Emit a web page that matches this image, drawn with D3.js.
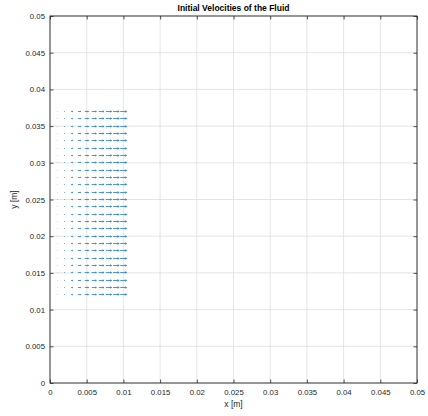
<!DOCTYPE html>
<html>
<head>
<meta charset="utf-8">
<script src="https://cdn.jsdelivr.net/npm/d3@7"></script>
<style>
  html, body { margin: 0; padding: 0; background: #fff; }
  svg { display: block; font-family: "Liberation Sans", Arial, sans-serif; }
</style>
</head>
<body>
<svg id="chart" width="428" height="416"></svg>
<script>
// Grid of sample points (m)
const xPositions = [0.001, 0.002, 0.003, 0.004, 0.005, 0.006, 0.007, 0.008, 0.009, 0.010];
const yPositions = [0.012, 0.013, 0.014, 0.015, 0.016, 0.017, 0.018, 0.019, 0.020, 0.021,
                    0.022, 0.023, 0.024, 0.025, 0.026, 0.027, 0.028, 0.029, 0.030, 0.031,
                    0.032, 0.033, 0.034, 0.035, 0.036, 0.037];
// Horizontal velocity at each x column (same for every row), vertical component zero
const uValues = [0.05, 0.12, 0.30, 0.45, 0.60, 0.72, 0.82, 0.90, 0.96, 1.00];
const vValues = [0, 0, 0, 0, 0, 0, 0, 0, 0, 0];

const xTicks = [0, 0.005, 0.01, 0.015, 0.02, 0.025, 0.03, 0.035, 0.04, 0.045, 0.05];
const yTicks = [0, 0.005, 0.01, 0.015, 0.02, 0.025, 0.03, 0.035, 0.04, 0.045, 0.05];

const titleText = "Initial Velocities of the Fluid";
const xLabel = "x [m]";
const yLabel = "y [m]";

const margin = { left: 50, top: 16, right: 11, bottom: 33 };
const W = 428, H = 416;
const iw = W - margin.left - margin.right;
const ih = H - margin.top - margin.bottom;

const svg = d3.select("#chart");
const g = svg.append("g").attr("transform", `translate(${margin.left},${margin.top})`);

const x = d3.scaleLinear().domain([0, 0.05]).range([0, iw]);
const y = d3.scaleLinear().domain([0, 0.05]).range([ih, 0]);

const fmt = d => d === 0 ? "0" : String(+d.toFixed(4));
const axisColor = "#262626";
const tickLen = 3.5;

// Grid lines
g.append("g").selectAll("line.gx").data(xTicks).join("line")
  .attr("x1", d => x(d)).attr("x2", d => x(d)).attr("y1", 0).attr("y2", ih)
  .attr("stroke", "#dedede").attr("stroke-width", 0.8);
g.append("g").selectAll("line.gy").data(yTicks).join("line")
  .attr("y1", d => y(d)).attr("y2", d => y(d)).attr("x1", 0).attr("x2", iw)
  .attr("stroke", "#dedede").attr("stroke-width", 0.8);

// Axes with inward ticks
const styleAxis = sel => {
  sel.select(".domain").remove();
  sel.selectAll(".tick line").attr("stroke", axisColor).attr("stroke-width", 0.8);
  sel.selectAll(".tick text").attr("fill", axisColor).attr("font-size", 7.8);
};
g.append("g").attr("transform", `translate(0,${ih})`)
  .call(d3.axisBottom(x).tickValues(xTicks).tickFormat(fmt).tickSizeInner(-tickLen).tickSizeOuter(0).tickPadding(6))
  .call(styleAxis);
g.append("g")
  .call(d3.axisLeft(y).tickValues(yTicks).tickFormat(fmt).tickSizeInner(-tickLen).tickSizeOuter(0).tickPadding(5))
  .call(styleAxis);
g.append("g")
  .call(d3.axisTop(x).tickValues(xTicks).tickFormat("").tickSizeInner(-tickLen).tickSizeOuter(0))
  .call(styleAxis);
g.append("g").attr("transform", `translate(${iw},0)`)
  .call(d3.axisRight(y).tickValues(yTicks).tickFormat("").tickSizeInner(-tickLen).tickSizeOuter(0))
  .call(styleAxis);

// Box
g.append("rect").attr("x", 0).attr("y", 0).attr("width", iw).attr("height", ih)
  .attr("fill", "none").attr("stroke", axisColor).attr("stroke-width", 0.9);

// Quiver arrows, centred on each sample point; longest arrow ~0.87 of grid spacing
const spacing = xPositions[1] - xPositions[0];
const maxMag = d3.max(uValues.map((u, i) => Math.hypot(u, vValues[i])));
const scaleFactor = 0.87 * spacing / maxMag;
const arrows = [];
yPositions.forEach(yy => {
  xPositions.forEach((xx, i) => {
    arrows.push({ x: xx, y: yy, u: uValues[i] * scaleFactor, v: vValues[i] * scaleFactor });
  });
});
// snap horizontal strokes to pixel centres so every row renders alike
const snap = v => Math.round(v - 0.5) + 0.5;
const color = "#3a8cca";
const q = g.append("g").attr("stroke", color).attr("stroke-width", 0.9).attr("fill", "none");
arrows.forEach(a => {
  const x0 = x(a.x - a.u / 2), y0 = snap(y(a.y - a.v / 2));
  const x1 = x(a.x + a.u / 2), y1 = snap(y(a.y + a.v / 2));
  const len = Math.hypot(x1 - x0, y1 - y0);
  q.append("line").attr("x1", x0).attr("y1", y0).attr("x2", x1).attr("y2", y1);
  const h = len * 0.3;
  if (h > 0.3) {
    const ang = Math.atan2(y1 - y0, x1 - x0);
    const a1 = ang + Math.PI - 0.45, a2 = ang + Math.PI + 0.45;
    q.append("path").attr("d",
      `M${x1 + h * Math.cos(a1)},${y1 + h * Math.sin(a1)}L${x1},${y1}L${x1 + h * Math.cos(a2)},${y1 + h * Math.sin(a2)}`);
  }
});

// Title and axis labels
svg.append("text").attr("x", margin.left + iw / 2).attr("y", 11)
  .attr("text-anchor", "middle").attr("font-size", 8.5).attr("font-weight", "bold")
  .attr("fill", "#000").text(titleText);
svg.append("text").attr("x", margin.left + iw / 2).attr("y", 407)
  .attr("text-anchor", "middle").attr("font-size", 8.5).attr("fill", axisColor).text(xLabel);
svg.append("text").attr("transform", `translate(17,${margin.top + ih / 2}) rotate(-90)`)
  .attr("text-anchor", "middle").attr("font-size", 8.5).attr("fill", axisColor).text(yLabel);
</script>
</body>
</html>
